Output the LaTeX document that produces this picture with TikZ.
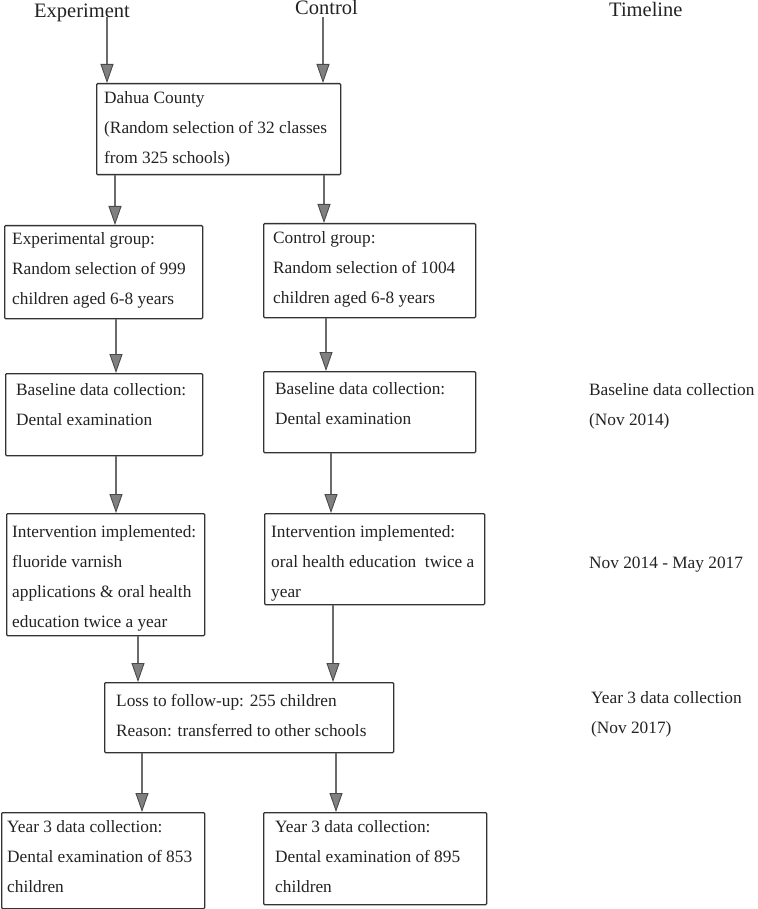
\documentclass[tikz,border=0pt]{standalone}
\usepackage{fontspec}
\setmainfont{Liberation Serif}
\usetikzlibrary{arrows.meta}
\definecolor{linec}{HTML}{6B6B6B}
\definecolor{tipfill}{HTML}{808080}
\definecolor{tipline}{HTML}{4A4A4A}
\definecolor{boxc}{HTML}{333333}
\definecolor{txtc}{HTML}{222222}
\begin{document}
\begin{tikzpicture}[x=1pt,y=-1pt,
  box/.style={draw=boxc, line width=1.3pt, rounded corners=1pt, inner sep=0pt, anchor=north west},
  txt/.style={font=\fontsize{17.3}{30}\selectfont, text=txtc, inner sep=0pt, anchor=north west, align=left},
  head/.style={font=\fontsize{20.5}{24}\selectfont, text=txtc, inner sep=0pt, anchor=base west},
  tl/.style={font=\fontsize{17.3}{30}\selectfont, text=txtc, inner sep=0pt, anchor=base west},
  arr/.style={draw=linec, line width=1.6pt, -{Triangle[length=19pt,width=13pt,fill=tipfill,color=tipline,line width=0.9pt]}}]
\useasboundingbox (0,0) rectangle (757,909);

% headers
\node[head] (hexp) at (34,18) {Experiment};
\node[head] (hcon) at (295,15) {Control};
\node[head] (htl) at (609,17) {Timeline};

% boxes
\node[box, minimum width=244pt, minimum height=91pt] (top) at (96,83) {};
\node[box, minimum width=198pt, minimum height=93pt] (eg) at (4,225) {};
\node[box, minimum width=212pt, minimum height=94pt] (cg) at (263,223) {};
\node[box, minimum width=197pt, minimum height=82pt] (bl) at (5,373) {};
\node[box, minimum width=212pt, minimum height=81pt] (br) at (263,371) {};
\node[box, minimum width=198pt, minimum height=122pt] (il) at (6,513) {};
\node[box, minimum width=220pt, minimum height=91pt] (ir) at (264,513) {};
\node[box, minimum width=289pt, minimum height=70pt] (loss) at (104,682) {};
\node[box, minimum width=203pt, minimum height=96pt] (yl) at (1,812) {};
\node[box, minimum width=223pt, minimum height=92pt] (yr) at (263,812) {};

% box texts
\node[txt] (ttop) at (104,82) {\strut Dahua County\\(Random selection of 32 classes\\from 325 schools)};
\node[txt] (teg) at (12,223) {\strut Experimental group:\\Random selection of 999\\children aged 6-8 years};
\node[txt] (tcg) at (273,222) {\strut Control group:\\Random selection of 1004\\children aged 6-8 years};
\node[txt] (tbl) at (16,374) {\strut Baseline data collection:\\Dental examination};
\node[txt] (tbr) at (275,373) {\strut Baseline data collection:\\Dental examination};
\node[txt] (til) at (12,516) {\strut Intervention implemented:\\fluoride varnish\\applications \& oral health\\education twice a year};
\node[txt] (tir) at (271,516) {\strut Intervention implemented:\\oral health education~ twice a\\year};
\node[txt] (tloss) at (116,685) {\strut Loss to follow-up: 255 children\\Reason: transferred to other schools};
\node[txt] (tyl) at (7,811) {\strut Year 3 data collection:\\Dental examination of 853\\children};
\node[txt] (tyr) at (275,811) {\strut Year 3 data collection:\\Dental examination of 895\\children};

% timeline
\node[txt] (t1) at (589,374) {\strut Baseline data collection\\(Nov 2014)};
\node[tl] (t2) at (589,568) {Nov 2014 - May 2017};
\node[txt] (t3) at (591,682) {\strut Year 3 data collection\\(Nov 2017)};

% arrow columns
\coordinate (s1) at (107,17);
\coordinate (s2) at (323,17);
\coordinate (c1) at (115,0);
\coordinate (c2) at (324,0);
\coordinate (c3) at (116,0);
\coordinate (c4) at (326,0);
\coordinate (c5) at (331,0);
\coordinate (c6) at (138,0);
\coordinate (c7) at (333,0);
\coordinate (c8) at (142,0);
\coordinate (c9) at (336,0);

\draw[arr] (s1) -- (s1 |- top.north);
\draw[arr] (s2) -- (s2 |- top.north);
\draw[arr] (top.south -| c1) -- (eg.north -| c1);
\draw[arr] (top.south -| c2) -- (cg.north -| c2);
\draw[arr] (eg.south -| c3) -- (bl.north -| c3);
\draw[arr] (cg.south -| c4) -- (br.north -| c4);
\draw[arr] (bl.south -| c3) -- (il.north -| c3);
\draw[arr] (br.south -| c5) -- (ir.north -| c5);
\draw[arr] (il.south -| c6) -- (loss.north -| c6);
\draw[arr] (ir.south -| c7) -- (loss.north -| c7);
\draw[arr] (loss.south -| c8) -- (yl.north -| c8);
\draw[arr] (loss.south -| c9) -- (yr.north -| c9);
\end{tikzpicture}
\end{document}
